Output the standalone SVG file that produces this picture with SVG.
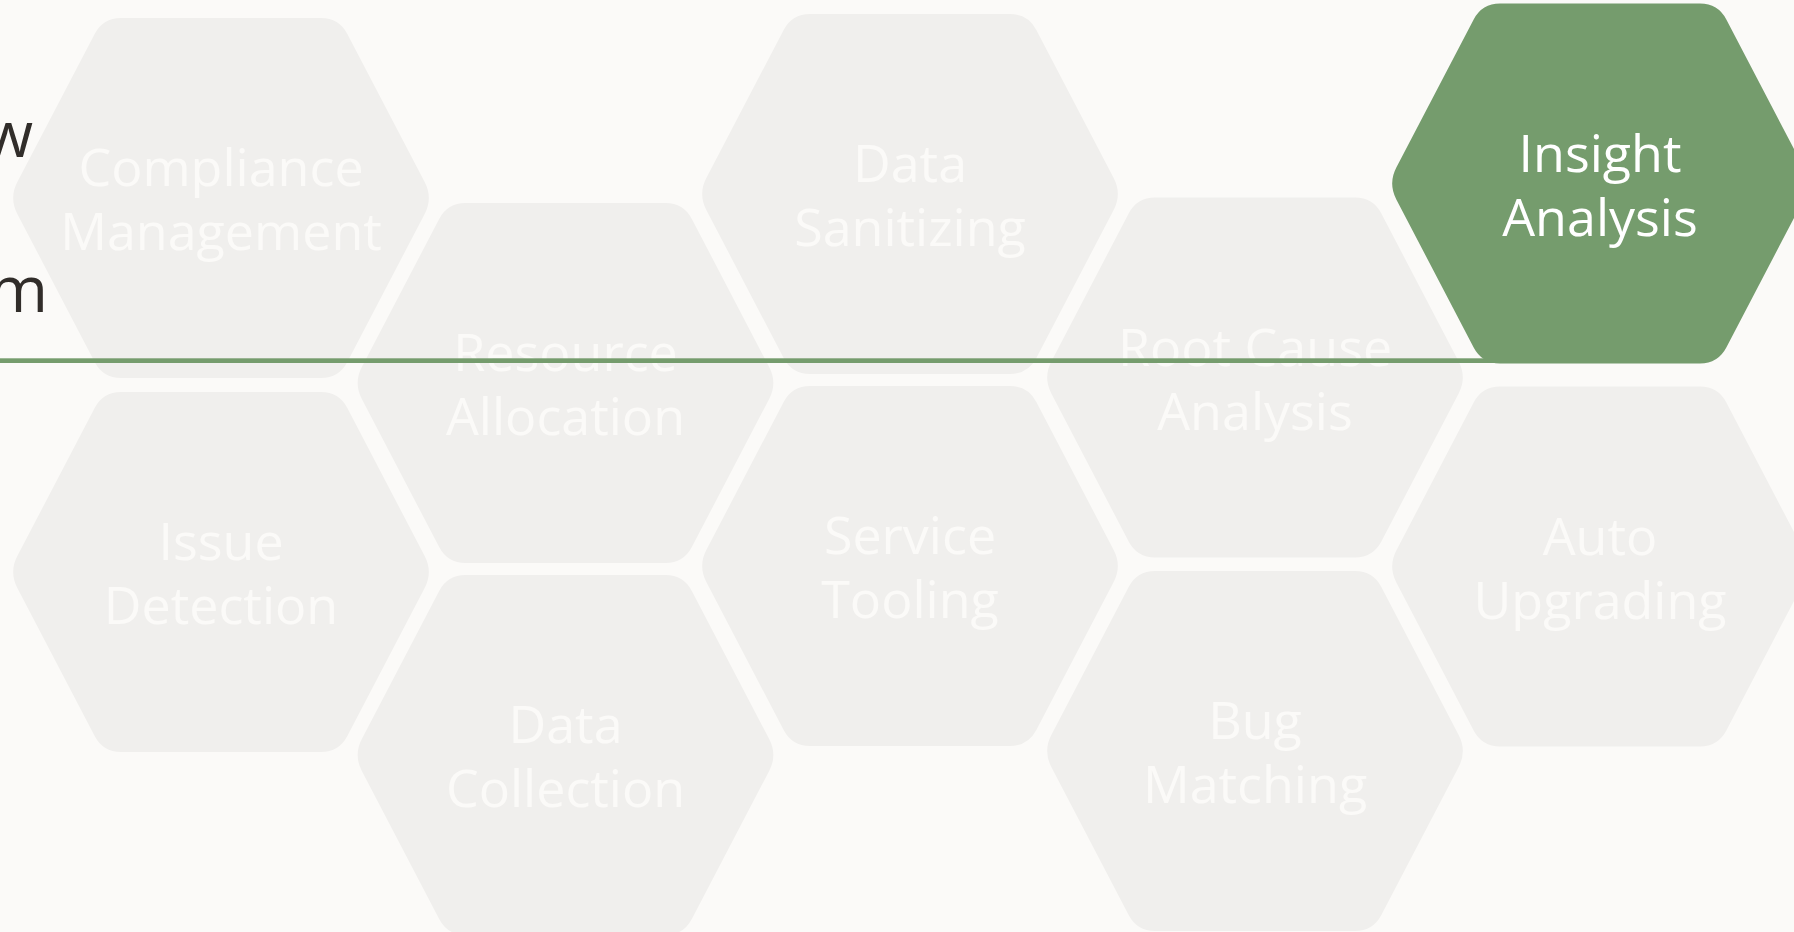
<svg xmlns="http://www.w3.org/2000/svg" width="1794" height="932" viewBox="0 0 1794 932">
  <style>
    .hex { fill: #f0efed; }
    .hex-active { fill: #759c6d; }
    .lbl { font-family: "Open Sans", "Noto Sans", "Liberation Sans", sans-serif; font-size: 52px; fill: #fbfaf8; text-anchor: middle; }
    .lbl-active { fill: #ffffff; }
    .head { font-family: "Open Sans", "Noto Sans", "Liberation Sans", sans-serif; font-size: 64px; fill: #312d2a; text-anchor: end; }
  </style>
  <defs>
    <path id="hexshape" d="M -100 -180 L 100 -180 Q 118 -180 126.33 -164.04 L 203.67 -15.96 Q 212 0 203.67 15.96 L 126.33 164.04 Q 118 180 100 180 L -100 180 Q -118 180 -126.33 164.04 L -203.67 15.96 Q -212 0 -203.67 -15.96 L -126.33 -164.04 Q -118 -180 -100 -180 Z"/>
  </defs>
  <rect x="0" y="0" width="1794" height="932" fill="#fbfaf8"/>

  <g id="heading">
    <text class="head" x="33" y="157">w</text>
    <text class="head" x="48" y="312">m</text>
  </g>

  <g id="node-compliance-management" transform="translate(221,198)">
    <use href="#hexshape" class="hex"/>
    <text class="lbl" x="0" y="-12">Compliance</text>
    <text class="lbl" x="0" y="52">Management</text>
  </g>
  <g id="node-issue-detection" transform="translate(221,572)">
    <use href="#hexshape" class="hex"/>
    <text class="lbl" x="0" y="-12">Issue</text>
    <text class="lbl" x="0" y="52">Detection</text>
  </g>
  <g id="node-resource-allocation" transform="translate(565.5,383)">
    <use href="#hexshape" class="hex"/>
    <text class="lbl" x="0" y="-12">Resource</text>
    <text class="lbl" x="0" y="52">Allocation</text>
  </g>
  <g id="node-data-collection" transform="translate(565.5,755)">
    <use href="#hexshape" class="hex"/>
    <text class="lbl" x="0" y="-12">Data</text>
    <text class="lbl" x="0" y="52">Collection</text>
  </g>
  <g id="node-data-sanitizing" transform="translate(910,194)">
    <use href="#hexshape" class="hex"/>
    <text class="lbl" x="0" y="-12">Data</text>
    <text class="lbl" x="0" y="52">Sanitizing</text>
  </g>
  <g id="node-service-tooling" transform="translate(910,566)">
    <use href="#hexshape" class="hex"/>
    <text class="lbl" x="0" y="-12">Service</text>
    <text class="lbl" x="0" y="52">Tooling</text>
  </g>
  <g id="node-root-cause-analysis" transform="translate(1255,377.5)">
    <use href="#hexshape" class="hex"/>
    <text class="lbl" x="0" y="-12">Root Cause</text>
    <text class="lbl" x="0" y="52">Analysis</text>
  </g>
  <g id="node-bug-matching" transform="translate(1255,751)">
    <use href="#hexshape" class="hex"/>
    <text class="lbl" x="0" y="-12">Bug</text>
    <text class="lbl" x="0" y="52">Matching</text>
  </g>
  <g id="node-auto-upgrading" transform="translate(1600,566.5)">
    <use href="#hexshape" class="hex"/>
    <text class="lbl" x="0" y="-12">Auto</text>
    <text class="lbl" x="0" y="52">Upgrading</text>
  </g>

  <g id="connectors">
    <rect x="0" y="358.3" width="1500" height="4.7" fill="#759c6d"/>
  </g>

  <g id="node-insight-analysis" transform="translate(1600,183.5)">
    <use href="#hexshape" class="hex-active"/>
    <text class="lbl lbl-active" x="0" y="-12">Insight</text>
    <text class="lbl lbl-active" x="0" y="52">Analysis</text>
  </g>
</svg>
